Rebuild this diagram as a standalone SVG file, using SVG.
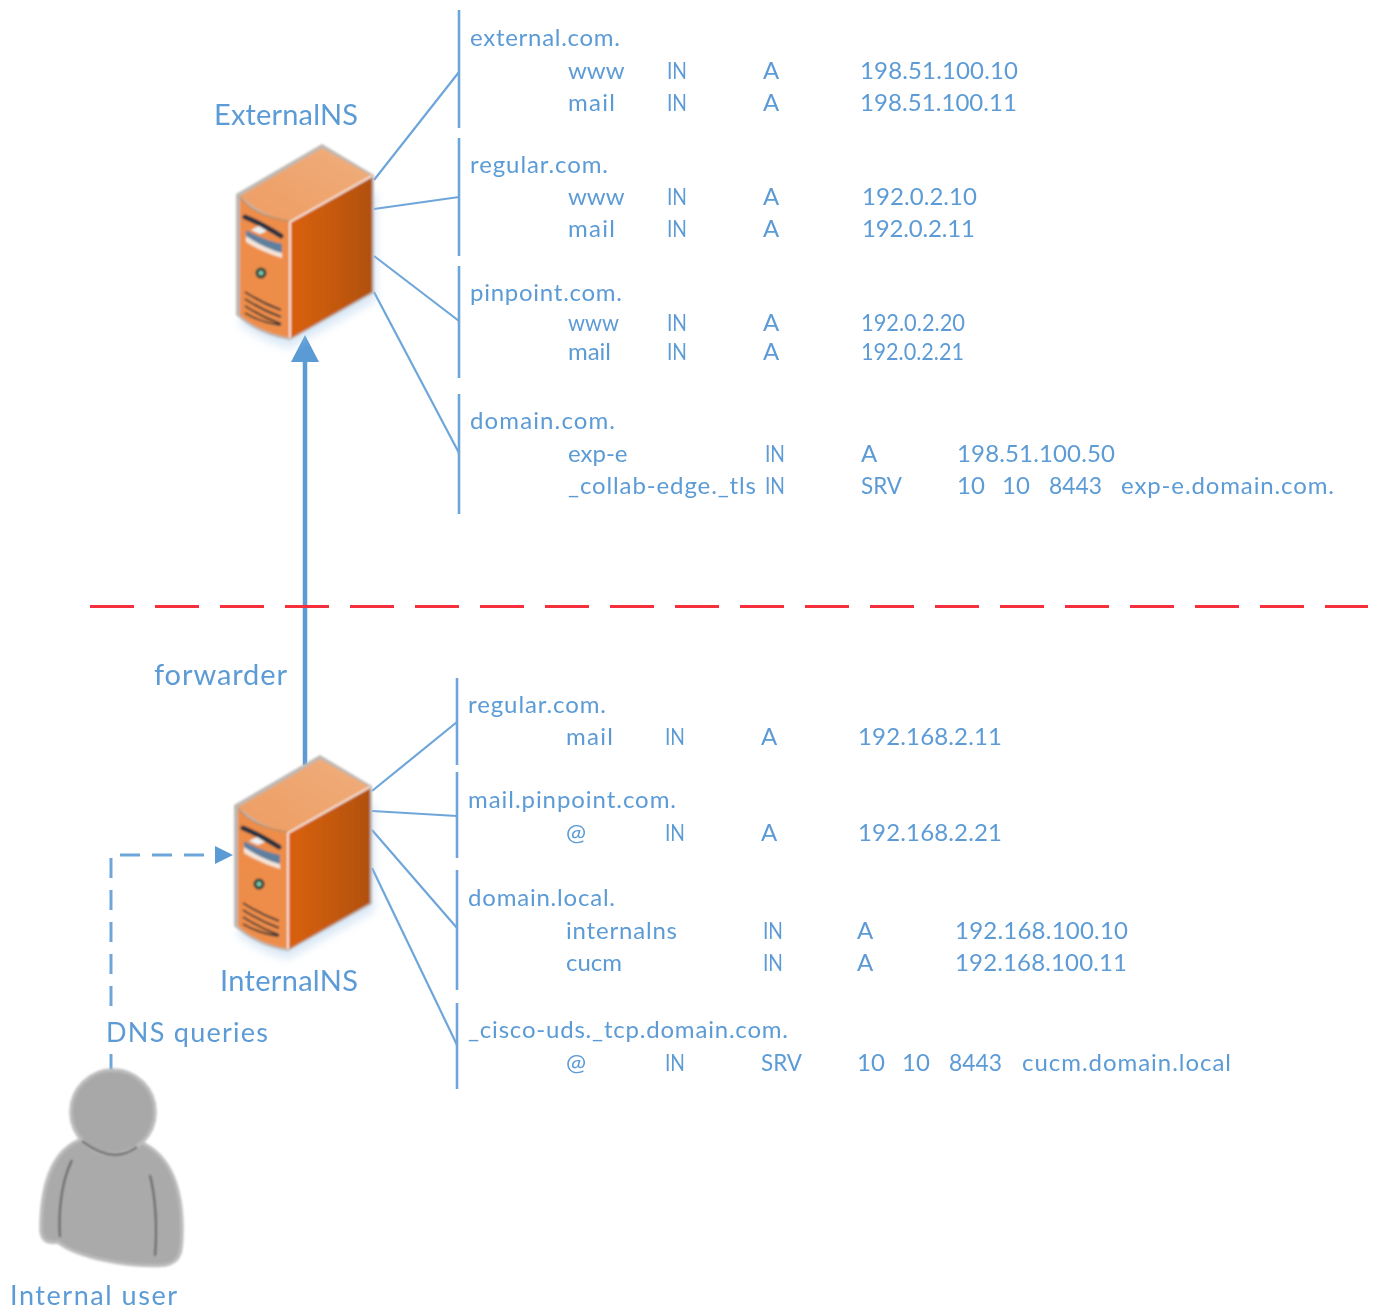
<svg xmlns="http://www.w3.org/2000/svg" width="1382" height="1310" viewBox="0 0 1382 1310">
<style>
text{font-family:Lato,"Open Sans","Liberation Sans",sans-serif;fill:#5b9bd5;font-size:24px;filter:url(#tb)}
.big{font-size:29px}
.mid{font-size:27px}
.c{fill:none;stroke:#6fa6da;stroke-width:2.2}
.b{fill:none;stroke:#6fa6da;stroke-width:2.6}
.vent{fill:none;stroke:#3f3a36;stroke-width:2}
</style>
<defs>
<linearGradient id="sideG" x1="0" x2="1" y1="0" y2="0"><stop offset="0" stop-color="#d9600f"/><stop offset=".55" stop-color="#c4590f"/><stop offset="1" stop-color="#b0500a"/></linearGradient>
<linearGradient id="topG" x1="0" x2="1" y1="1" y2="0"><stop offset="0" stop-color="#ee9d62"/><stop offset="1" stop-color="#f0ad7c"/></linearGradient>
<filter id="tb" x="-5%" y="-20%" width="110%" height="140%"><feGaussianBlur stdDeviation="0.45"/></filter>
<filter id="soft" x="-20%" y="-20%" width="140%" height="140%"><feGaussianBlur stdDeviation="0.8"/></filter>
<filter id="shadow" x="-30%" y="-30%" width="160%" height="160%"><feGaussianBlur stdDeviation="5"/></filter>
<g id="server">
<path d="M238 322Q262 342 290 348L376 300 376 190Z" fill="#9fc3e6" opacity=".4" filter="url(#shadow)"/>
<g filter="url(#soft)">
<path d="M322 144 374 175 374 293 290 340Q258 335 236 315V194Z" fill="#bdb8b2"/>
<path d="M322 148 372 176 290 222Q262 216 240 196Z" fill="url(#topG)"/>
<path d="M240 197Q254 216 290 222V338Q258 332 240 315Z" fill="#ee8d4a"/>
<path d="M240 197Q254 216 289 221" fill="none" stroke="#b5895f" stroke-width="1.2"/>
<path d="M291 222 372 177V292L291 338Z" fill="url(#sideG)"/>
<path d="M290 222 372 176M290 222V338" stroke="#f8ece2" stroke-width="1.8" fill="none"/>
<path d="M245 217Q262 224 281 236" fill="none" stroke="#23303f" stroke-width="5" stroke-linecap="round"/>
<path d="M246 230Q264 240 282 244V256Q262 250 246 238Z" fill="#5f7f9f"/>
<path d="M246 236Q264 248 282 253V258Q262 252 246 242Z" fill="#f4e5d8"/>
<path d="M251 230 260 234 267 231 259 226Z" fill="#eef0f0"/>
<circle cx="261" cy="273" r="5.5" fill="#24413a"/><circle cx="261" cy="273" r="2.5" fill="#7fc8a8"/>
<path class="vent" d="M245 292Q262 303 281 310M245 299Q262 310 281 317M245 306Q262 317 281 324M245 313Q262 323 281 325"/>
</g>
</g>
</defs>
<g id="connectors">
<path class="c" d="M374 180 459 72M374 209 459 197M374 256 459 321M374 292 459 453"/>
<path class="c" d="M372 791 457 722M372 811 457 816M372 830 457 928M372 868 457 1045"/>
<path class="b" d="M459 10V128M459 138V256M459 266V378M459 394V514"/>
<path class="b" d="M457 678V765M457 772V858M457 870V990M457 1003V1089"/>
<path d="M305 765V360" fill="none" stroke="#5b9bd5" stroke-width="4.5"/>
<path d="M305 335 319 362H291Z" fill="#5b9bd5"/>
<path d="M90 606.500H1368" fill="none" stroke="#f5303c" stroke-width="3" stroke-dasharray="44 21"/>
<path d="M111 1006V855H215" fill="none" stroke="#6fa6da" stroke-width="3" stroke-dasharray="20 12"/>
<path d="M111 1054V1070" fill="none" stroke="#6fa6da" stroke-width="3"/>
<path d="M233 855 215 846V864Z" fill="#5b9bd5"/>
</g>
<g id="ExternalNS"><use href="#server"/><text x="214" y="125" class="big" textLength="144">ExternalNS</text></g>
<g id="InternalNS"><use href="#server" x="-2" y="611"/><text x="220" y="991" class="big" textLength="138">InternalNS</text></g>
<g id="InternalUser">
<g filter="url(#soft)">
<path d="M80 1140C55 1150 42 1180 41 1225 40 1242 48 1243 58 1242 75 1256 125 1268 165 1265 182 1262 182 1250 182 1225 181 1185 170 1155 140 1142Z" fill="#aaaaaa" stroke="#bcbcbc" stroke-width="3.500"/>
<circle cx="113" cy="1112" r="42" fill="#a8a8a8" stroke="#bcbcbc" stroke-width="3.500"/>
<path d="M82 1141Q112 1165 137 1147M72 1160C62 1180 58 1210 60 1237M150 1175C156 1200 157 1230 155 1256" fill="none" stroke="#5c5c5c" stroke-width="2"/>
</g>
<text x="10" y="1305" class="mid" textLength="167">Internal user</text>
</g>
<g id="zone-external-com"><text x="470" y="46" textLength="150">external.com.</text><text x="568" y="79">www</text><text x="667" y="79" textLength="20" lengthAdjust="spacingAndGlyphs">IN</text><text x="763" y="79">A</text><text x="860" y="79" textLength="158">198.51.100.10</text><text x="568" y="111" textLength="47">mail</text><text x="667" y="111" textLength="20" lengthAdjust="spacingAndGlyphs">IN</text><text x="763" y="111">A</text><text x="860" y="111" textLength="157">198.51.100.11</text></g>
<g id="zone-regular-com"><text x="470" y="173" textLength="138">regular.com.</text><text x="568" y="205">www</text><text x="667" y="205" textLength="20" lengthAdjust="spacingAndGlyphs">IN</text><text x="763" y="205">A</text><text x="862" y="205" textLength="115">192.0.2.10</text><text x="568" y="237" textLength="47">mail</text><text x="667" y="237" textLength="20" lengthAdjust="spacingAndGlyphs">IN</text><text x="763" y="237">A</text><text x="862" y="237" textLength="113">192.0.2.11</text></g>
<g id="zone-pinpoint-com"><text x="470" y="301" textLength="152">pinpoint.com.</text><text x="568" y="331" textLength="51" lengthAdjust="spacingAndGlyphs">www</text><text x="667" y="331" textLength="20" lengthAdjust="spacingAndGlyphs">IN</text><text x="763" y="331">A</text><text x="861" y="331" textLength="104" lengthAdjust="spacingAndGlyphs">192.0.2.20</text><text x="568" y="360" textLength="43">mail</text><text x="667" y="360" textLength="20" lengthAdjust="spacingAndGlyphs">IN</text><text x="763" y="360">A</text><text x="861" y="360" textLength="103" lengthAdjust="spacingAndGlyphs">192.0.2.21</text></g>
<g id="zone-domain-com"><text x="470" y="429" textLength="145">domain.com.</text><text x="568" y="462">exp-e</text><text x="765" y="462" textLength="20" lengthAdjust="spacingAndGlyphs">IN</text><text x="861" y="462">A</text><text x="957" y="462" textLength="158">198.51.100.50</text><text x="568" y="494" textLength="188">_collab-edge._tls</text><text x="765" y="494" textLength="20" lengthAdjust="spacingAndGlyphs">IN</text><text x="861" y="494" textLength="41" lengthAdjust="spacingAndGlyphs">SRV</text><text x="957" y="494">10</text><text x="1002" y="494">10</text><text x="1049" y="494" textLength="53" lengthAdjust="spacingAndGlyphs">8443</text><text x="1121" y="494" textLength="213">exp-e.domain.com.</text></g>
<text x="154" y="685" class="big" textLength="133">forwarder</text>
<text x="106" y="1042" class="mid" textLength="162">DNS queries</text>
<g id="zone-int-regular"><text x="468" y="713" textLength="138">regular.com.</text><text x="566" y="745" textLength="47">mail</text><text x="665" y="745" textLength="20" lengthAdjust="spacingAndGlyphs">IN</text><text x="761" y="745">A</text><text x="858" y="745" textLength="144">192.168.2.11</text></g>
<g id="zone-int-mail"><text x="468" y="808" textLength="208">mail.pinpoint.com.</text><text x="566" y="841">@</text><text x="665" y="841" textLength="20" lengthAdjust="spacingAndGlyphs">IN</text><text x="761" y="841">A</text><text x="858" y="841" textLength="144">192.168.2.21</text></g>
<g id="zone-int-domain"><text x="468" y="906" textLength="147">domain.local.</text><text x="566" y="939" textLength="111">internalns</text><text x="763" y="939" textLength="20" lengthAdjust="spacingAndGlyphs">IN</text><text x="857" y="939">A</text><text x="955" y="939" textLength="173">192.168.100.10</text><text x="566" y="971">cucm</text><text x="763" y="971" textLength="20" lengthAdjust="spacingAndGlyphs">IN</text><text x="857" y="971">A</text><text x="955" y="971" textLength="172">192.168.100.11</text></g>
<g id="zone-int-cisco"><text x="468" y="1038" textLength="320">_cisco-uds._tcp.domain.com.</text><text x="566" y="1071">@</text><text x="665" y="1071" textLength="20" lengthAdjust="spacingAndGlyphs">IN</text><text x="761" y="1071" textLength="41" lengthAdjust="spacingAndGlyphs">SRV</text><text x="857" y="1071">10</text><text x="902" y="1071">10</text><text x="949" y="1071" textLength="53" lengthAdjust="spacingAndGlyphs">8443</text><text x="1022" y="1071" textLength="209">cucm.domain.local</text></g>
</svg>
